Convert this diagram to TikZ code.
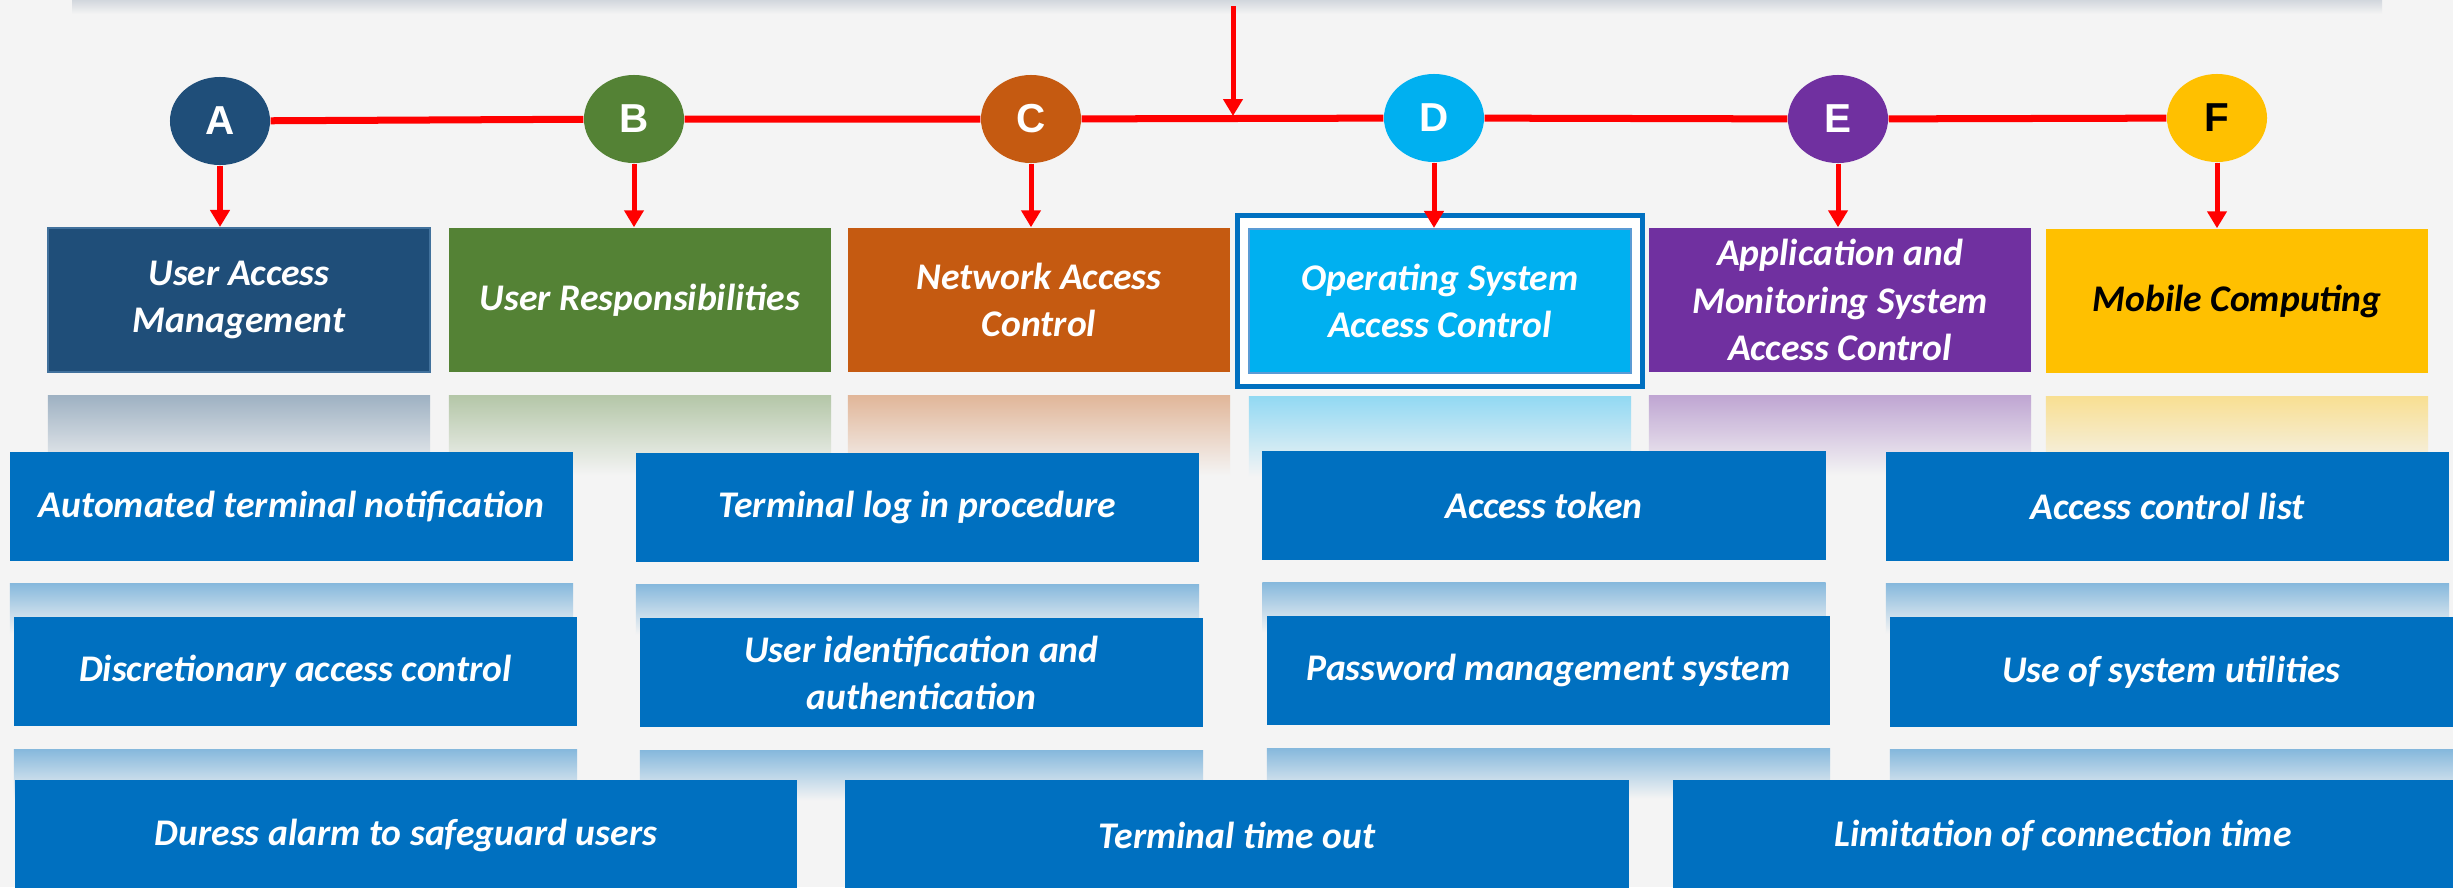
\documentclass[tikz,border=0pt]{standalone}
\usepackage{fontspec}
\setmainfont{Carlito}
\newfontfamily\letterfont{Liberation Sans}
\usetikzlibrary{arrows.meta,positioning,shapes.geometric,fit,backgrounds}

\definecolor{pagebg}{HTML}{F4F4F4}
\definecolor{barGray}{HTML}{D2D7DD}
\definecolor{aBlue}{HTML}{1F4E79}
\definecolor{aEdge}{HTML}{41719C}
\definecolor{bGreen}{HTML}{548235}
\definecolor{cOrange}{HTML}{C55A11}
\definecolor{dCyan}{HTML}{00B0F0}
\definecolor{dEdge}{HTML}{5B9BD5}
\definecolor{ePurple}{HTML}{7030A0}
\definecolor{fGold}{HTML}{FFC000}
\definecolor{itemBlue}{HTML}{0070C0}

\begin{document}
\begin{tikzpicture}[
  x=0.01cm, y=-0.01cm,
  letter/.style={
    ellipse,
    minimum width=1cm,
    minimum height=0.88cm,
    inner sep=0pt,
    text=white,
    font=\letterfont\bfseries\fontsize{11.5}{13}\selectfont
  },
  topic/.style={
    rectangle,
    align=center,
    minimum width=3.82cm,
    minimum height=1.44cm,
    inner sep=0pt,
    text=white,
    font=\bfseries\itshape\fontsize{10.7}{13.4}\selectfont
  },
  item/.style={
    rectangle,
    fill=itemBlue,
    align=center,
    minimum width=5.63cm,
    minimum height=1.09cm,
    inner sep=0pt,
    text=white,
    font=\bfseries\itshape\fontsize{10.7}{13.4}\selectfont
  },
  wideitem/.style={item, minimum width=7.82cm},
  gleam/.style={rectangle, inner sep=0pt, top color=#1, bottom color=pagebg},
  biggleam/.style={gleam=#1, minimum width=3.82cm, minimum height=0.8cm},
  smallgleam/.style={gleam=#1, minimum width=5.63cm, minimum height=0.5cm},
  link/.style={red, line width=0.07cm},
  drop/.style={-{Triangle[length=0.17cm,width=0.19cm]}, red, line width=0.05cm}
]

\useasboundingbox (0,0) rectangle (2453,887);
\clip (0,0) rectangle (2453,887);
\begin{scope}[on background layer]
  \fill[pagebg] (0,0) rectangle (2453,887);
\end{scope}

% shadow strip along the top edge
\shade[top color=barGray, bottom color=pagebg] (72,0) rectangle (2382,14);

% Lettered markers
\node[letter,fill=aBlue] (A) at (220,121) {A};
\node[letter,fill=bGreen] (B) at (634,119) {B};
\node[letter,fill=cOrange] (C) at (1031,119) {C};
\node[letter,fill=dCyan] (D) at (1434,118) {D};
\node[letter,fill=ePurple] (E) at (1838,119) {E};
\node[letter,fill=fGold,text=black] (F) at (2217,118) {F};

% Control areas
\node[topic,fill=aBlue,draw=aEdge,line width=0.02cm] (uam) at (239,300) {User Access\\Management};
\node[topic,fill=bGreen] (ur) at (640,300) {User Responsibilities};
\node[topic,fill=cOrange] (nac) at (1039,300) {Network Access\\Control};
\node[topic,fill=dCyan,draw=dEdge,line width=0.02cm] (osac) at (1440,301) {Operating System\\Access Control};
\node[topic,fill=ePurple] (amac) at (1840,300) {Application and\\Monitoring System\\Access Control};
\node[topic,fill=fGold,text=black] (mc) at (2237,301) {Mobile Computing};

% highlight frame round the selected area
\begin{scope}[on background layer]
  \node[draw=itemBlue,fill=white,line width=0.05cm,inner xsep=0.1cm,inner ysep=0.12cm,fit=(osac)] (osacframe) {};
\end{scope}

% Reflections under the areas
\node[biggleam=aBlue!40!pagebg,below=0.22cm of uam] (uamglow) {};
\node[biggleam=bGreen!40!pagebg,below=0.22cm of ur] (urglow) {};
\node[biggleam=cOrange!40!pagebg,below=0.22cm of nac] (nacglow) {};
\node[biggleam=dCyan!40!pagebg,below=0.22cm of osac] (osacglow) {};
\node[biggleam=ePurple!40!pagebg,below=0.22cm of amac] (amacglow) {};
\node[biggleam=fGold!40!pagebg,below=0.22cm of mc] (mcglow) {};

% Timeline and drops
\coordinate (feed) at (1233,6);
\coordinate (join) at (1233,116);
\draw[link] (A) -- (B) -- (C) -- (D) -- (E) -- (F);
\draw[drop] (feed) -- (join);
\draw[drop] (A) -- (A |- uam.north);
\draw[drop] (B) -- (B |- ur.north);
\draw[drop] (C) -- (C |- nac.north);
\draw[drop] (D) -- (D |- osac.north);
\draw[drop] (E) -- (E |- amac.north);
\draw[drop] (F) -- (F |- mc.north);

% Controls, first row
\node[item] (autonote) at (291.5,506.5) {Automated terminal notification};
\node[item] (logon) at (917.5,507.5) {Terminal log in procedure};
\node[item] (token) at (1544,505.5) {Access token};
\node[item] (acl) at (2167.5,506.5) {Access control list};

\node[smallgleam=itemBlue!45!pagebg,below=0.21cm of autonote] (autonoteglow) {};
\node[smallgleam=itemBlue!45!pagebg,below=0.21cm of logon] (logonglow) {};
\node[smallgleam=itemBlue!45!pagebg,below=0.21cm of token] (tokenglow) {};
\node[smallgleam=itemBlue!45!pagebg,below=0.21cm of acl] (aclglow) {};

% Controls, second row
\node[item] (dac) at (295.5,671.5) {Discretionary access control};
\node[item] (userid) at (921.5,672.5) {User identification and\\authentication};
\node[item] (pwd) at (1548.5,670.5) {Password management system};
\node[item] (utils) at (2171.5,672) {Use of system utilities};

\node[smallgleam=itemBlue!45!pagebg,below=0.22cm of dac] (dacglow) {};
\node[smallgleam=itemBlue!45!pagebg,below=0.22cm of userid] (useridglow) {};
\node[smallgleam=itemBlue!45!pagebg,below=0.22cm of pwd] (pwdglow) {};
\node[smallgleam=itemBlue!45!pagebg,below=0.22cm of utils] (utilsglow) {};

% Controls, third row
\node[wideitem] (duress) at (406,835) {Duress alarm to safeguard users};
\node[wideitem,minimum width=7.84cm] (timeout) at (1237,835) {Terminal time out};
\node[wideitem,minimum width=7.8cm] (limit) at (2063,835) {Limitation of connection time};

\end{tikzpicture}
\end{document}
